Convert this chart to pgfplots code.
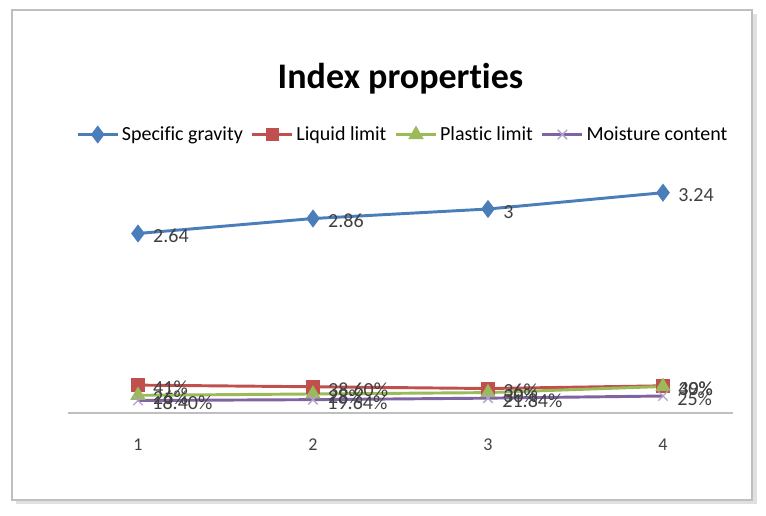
\documentclass[border=0pt]{standalone}
\usepackage{fontspec}
\setmainfont{Carlito}[Ligatures=NoCommon]
\usepackage{pgfplots}
\pgfplotsset{compat=1.18}

\definecolor{sgblue}{HTML}{4A7EBB}
\definecolor{llred}{HTML}{C0504D}
\definecolor{plgreen}{HTML}{9BBB59}
\definecolor{mcpurple}{HTML}{8064A2}
\definecolor{lbl}{HTML}{404040}

\begin{document}
\begin{tikzpicture}[x=0.75pt,y=0.75pt]
% page and chart frame (image pixels, origin bottom left)
\useasboundingbox (0,0) rectangle (766,515);
\fill[black!12] (16,11) rectangle (757,501);
\fill[white,draw=black!25,line width=0.8pt] (12,15) rectangle (752,505);

\begin{axis}[
    at={(51pt,76.5pt)}, anchor=south west,
    scale only axis,
    width=498.75pt, height=178.5pt,
    xmin=0.6, xmax=4.4,
    ymin=0, ymax=3.5,
    hide y axis,
    axis x line*=bottom,
    x axis line style={draw=black!25, line width=0.8pt, -},
    xtick={1,2,3,4},
    major tick length=0pt,
    /pgf/number format/assume math mode=true,
    xticklabel style={font=\fontsize{13.5}{16}\selectfont, text=lbl, yshift=-16pt},
    title={Index properties},
    title style={at={(0.5,1.37)}, anchor=center, font=\fontsize{27}{32}\selectfont\bfseries},
    legend columns=4,
    legend style={at={(0.504,1.17)}, anchor=center, draw=none, fill=none,
        font=\fontsize{15}{18}\selectfont,
        /tikz/every even column/.append style={column sep=4pt}},
    legend image code/.code={
        \draw[#1, mark repeat=2, mark phase=2] plot coordinates {(0pt,0pt) (15pt,0pt) (30pt,0pt)};},
    clip=false,
    every axis plot/.append style={line width=2.2pt},
    nodes near coords,
    point meta=explicit symbolic,
    every node near coord/.append style={font=\fontsize{15}{18}\selectfont, text=lbl,
        anchor=west, xshift=7pt, yshift=-2pt},
]
\addplot[color=sgblue, mark=diamond*, mark size=5pt, mark options={solid}]
    coordinates {(1,2.64)[2.64] (2,2.86)[2.86] (3,3)[3] (4,3.24)[3.24]};
\addlegendentry{Specific gravity}
\addplot[color=llred, mark=square*, mark size=4pt, mark options={solid}]
    coordinates {(1,0.41)[41\%] (2,0.386)[38.60\%] (3,0.36)[36\%] (4,0.40)[40\%]};
\addlegendentry{Liquid limit}
\addplot[color=plgreen, mark=triangle*, mark size=4.5pt, mark options={solid}]
    coordinates {(1,0.26)[26\%] (2,0.28)[28\%] (3,0.30)[30\%] (4,0.39)[39\%]};
\addlegendentry{Plastic limit}
\addplot[color=mcpurple, mark=x, mark size=5pt, mark options={solid, line width=1pt, color=mcpurple!60}]
    coordinates {(1,0.184)[18.40\%] (2,0.1964)[19.64\%] (3,0.2184)[21.84\%] (4,0.25)[25\%]};
\addlegendentry{Moisture content}
\end{axis}
\end{tikzpicture}
\end{document}
